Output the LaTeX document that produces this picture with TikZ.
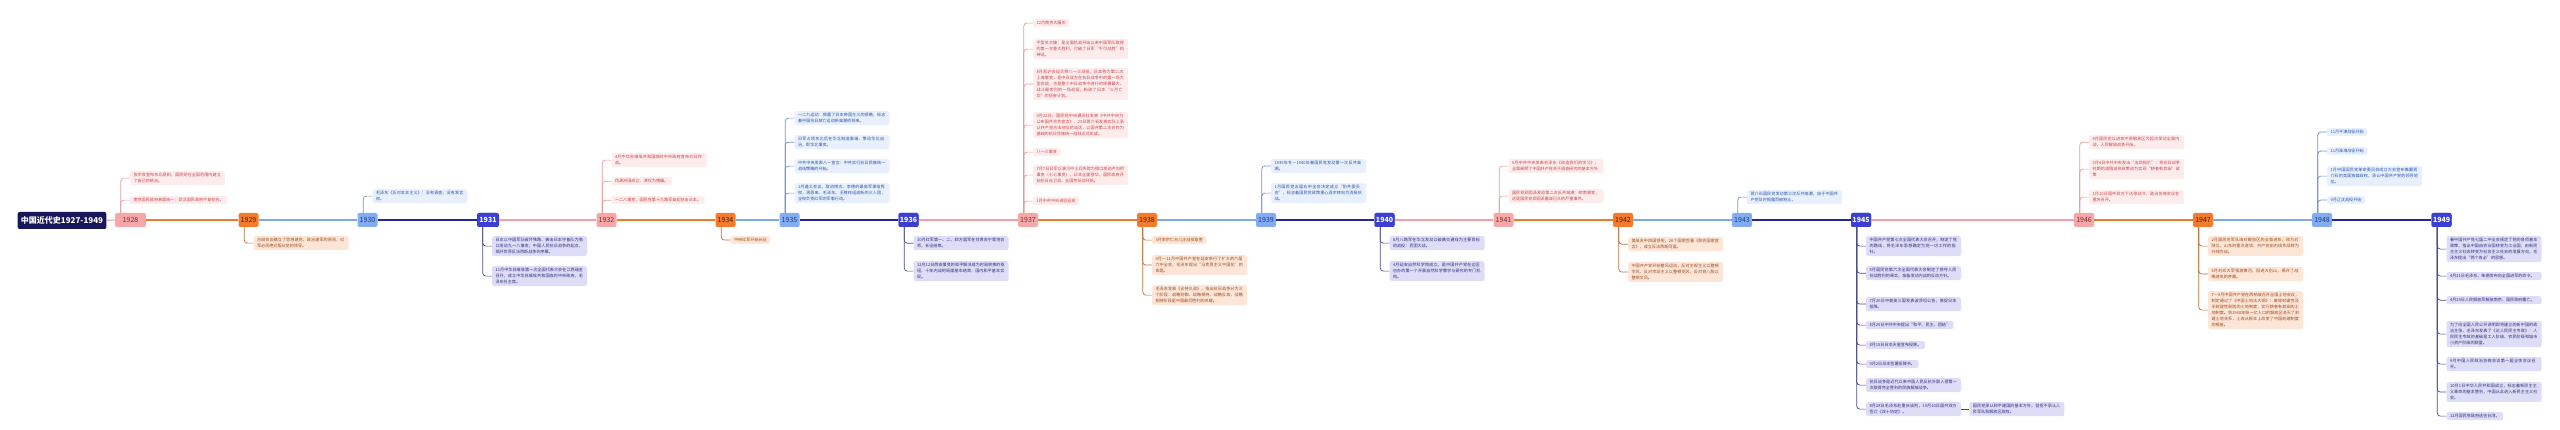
\documentclass[tikz,border=0pt]{standalone}
\usepackage{fontspec}
\setmainfont{Noto Sans CJK SC}
\XeTeXlinebreaklocale "zh"
\XeTeXlinebreakskip = 0pt plus 1pt
\usetikzlibrary{positioning}

\definecolor{navy}{HTML}{17175A}
\definecolor{pkY}{HTML}{F7A7A7}\definecolor{pkT}{HTML}{7A2E2E}\definecolor{pkB}{HTML}{FDECEC}
\definecolor{pkE}{HTML}{C9444A}\definecolor{pkL}{HTML}{F2A0A0}\definecolor{pkK}{HTML}{E39B9B}
\definecolor{orY}{HTML}{F37B2B}\definecolor{orT}{HTML}{4A1E05}\definecolor{orB}{HTML}{FDE6D8}
\definecolor{orE}{HTML}{9A4A1E}\definecolor{orL}{HTML}{F07A2C}\definecolor{orK}{HTML}{B8733F}
\definecolor{blY}{HTML}{82ACF4}\definecolor{blT}{HTML}{1E3C80}\definecolor{blB}{HTML}{E8F0FD}
\definecolor{blE}{HTML}{2C54A8}\definecolor{blL}{HTML}{7FA8F0}\definecolor{blK}{HTML}{6F92CF}
\definecolor{inY}{HTML}{3B3FD2}\definecolor{inT}{HTML}{FFFFFF}\definecolor{inB}{HTML}{DDDDF7}
\definecolor{inE}{HTML}{2E2E7A}\definecolor{inL}{HTML}{1F2A96}\definecolor{inK}{HTML}{4B4F86}

\tikzset{
  yr/.style={fill=#1Y, text=#1T, rounded corners=2pt, minimum height=14pt, inner sep=1pt,
    font=\fontsize{7}{8}\selectfont},
  ln/.style={draw=#1L, line width=1.2pt},
  evt/.style={fill=#1B, text=#1E, rounded corners=2pt, anchor=north west, inner xsep=3.5pt,
    inner ysep=2pt, align=left, font=\fontsize{4.1}{6}\selectfont},
}

% #1 opts, #2 name, #3 year node, #4 side, #5 colour, #6 top, #7 text
\newcommand{\evt}[7][text width=88pt]{%
  \node[evt=#5,#1,xshift=15pt] (#2) at (#3.west |- 0,#6) {#7};
  \draw[#5K, line width=.7pt, rounded corners=3pt] ([xshift=6pt]#3.#4 west) |- (#2.west);}

\begin{document}
\begin{tikzpicture}[x=1pt,y=-1pt]
  \useasboundingbox (0,0) rectangle (2560,430);
  \node[fill=navy, text=white, rounded corners=2pt, minimum width=86pt, minimum height=17pt,
    font=\bfseries\fontsize{8}{9}\selectfont] (root) at (62,220.5) {中国近代史1927-1949};
  \foreach \yy/\xx/\tp/\ww in {1928/130.5/pk/31, 1929/248.5/or/20, 1930/367.5/bl/20, 1931/488/in/22,
      1932/606.5/pk/20, 1934/725.5/or/20, 1935/789.5/bl/20, 1936/908.5/in/20, 1937/1028/pk/20,
      1938/1147/or/20, 1939/1266/bl/20, 1940/1384.5/in/20, 1941/1503.5/pk/20, 1942/1623/or/20,
      1943/1742/bl/20, 1945/1861/in/20, 1946/2084/pk/20, 1947/2203/or/20, 1948/2322/bl/20,
      1949/2441.5/in/20}
    \node[yr/.expanded=\tp, minimum width=\ww pt] (y\yy) at (\xx,220) {\yy};
  \foreach \a/\b/\tp in {root/y1928/pk, y1928/y1929/or, y1929/y1930/bl, y1930/y1931/in,
      y1931/y1932/pk, y1932/y1934/or, y1934/y1935/bl, y1935/y1936/in, y1936/y1937/pk,
      y1937/y1938/or, y1938/y1939/bl, y1939/y1940/in, y1940/y1941/pk, y1941/y1942/or,
      y1942/y1943/bl, y1943/y1945/in, y1945/y1946/pk, y1946/y1947/or, y1947/y1948/bl,
      y1948/y1949/in}
    \draw[ln/.expanded=\tp] (\a) -- (\b);
  \foreach \yy in {1931,1936,1940,1945,1949}
    \node[yr=in, minimum width=20pt, font=\bfseries\fontsize{7}{8}\selectfont] at (y\yy) {\yy};

  \evt{k28a}{y1928}{north}{pk}{171}{张学良宣布东北易帜，国民党在全国范围内建立了自己的统治。}
  \evt[]{k28b}{y1928}{north}{pk}{196}{南京国民政府表面统一：武汉国民政府不复存在。}
  \evt{k29a}{y1929}{south}{or}{236}{古田会议确立了思想建党、政治建军的原则，红军必须绝对服从党的领导。}
  \evt{k30a}{y1930}{north}{bl}{189}{毛泽东《反对本本主义》：没有调查，没有发言权。}
  \evt{k31a}{y1931}{south}{in}{236}{日本以中国军队破坏铁路、袭击日本守备队为借口发动九一八事变；中国人民抗日战争的起点，揭开世界反法西斯战争的序幕。}
  \evt{k31b}{y1931}{south}{in}{266}{11月中华苏维埃第一次全国代表大会在江西瑞金召开，成立中华苏维埃共和国临时中央政府，毛泽东任主席。}
  \evt{k32a}{y1932}{north}{pk}{153}{4月中华苏维埃共和国临时中央政府宣布对日作战。}
  \evt[]{k32b}{y1932}{north}{pk}{177}{伪满洲国成立，溥仪为傀儡。}
  \evt[]{k32c}{y1932}{north}{pk}{196}{一二八事变，国民党第十九路军奋起抗击日本。}
  \evt[]{k34a}{y1934}{south}{or}{236}{中央红军开始长征}
  \evt{k35a}{y1935}{north}{bl}{111}{一二九运动：揭露了日本帝国主义的侵略，标志着中国抗日救亡运动新高潮的到来。}
  \evt{k35b}{y1935}{north}{bl}{135}{日军占领东北后在华北制造事端，策动华北自治，即华北事变。}
  \evt{k35c}{y1935}{north}{bl}{159}{中共中央发表八一宣言：中共实行抗日民族统一战线策略的开始。}
  \evt{k35d}{y1935}{north}{bl}{183}{1月遵义会议，取消博古、李德的最高军事指挥权，周恩来、毛泽东、王稼祥组成新的三人团，全权负责红军的军事行动。}
  \evt{k36a}{y1936}{south}{in}{236}{10月红军第一、二、四方面军在甘肃会宁等地会师，长征结束。}
  \evt{k36b}{y1936}{south}{in}{261}{12月12日西安事变的和平解决成为时局转换的枢纽，十年内战的局面基本结束，国内和平基本实现。}
  \evt[]{k37a}{y1937}{north}{pk}{19}{12月南京大屠杀}
  \evt{k37b}{y1937}{north}{pk}{39}{平型关大捷：是全面抗战开始以来中国军队取得的第一次重大胜利，打破了日军“不可战胜”的神话。}
  \evt{k37c}{y1937}{north}{pk}{68}{8月淞沪会战又称八一三战役，日本称为第二次上海事变，是中日双方在抗日战争中的第一场大型会战，也是整个中日战争中进行的规模最大、战斗最惨烈的一场战役，粉碎了日本“三月亡华”的狂妄计划。}
  \evt{k37d}{y1937}{north}{pk}{112}{9月22日，国民党中央通讯社发表《中共中央为公布国共合作宣言》，23日蒋介石发表实际上承认共产党合法地位的谈话，以国共第二次合作为基础的抗日民族统一战线正式形成。}
  \evt[]{k37e}{y1937}{north}{pk}{148}{八一三事变}
  \evt{k37f}{y1937}{north}{pk}{165}{7月7日日军以演习中士兵失踪为借口发动卢沟桥事变（七七事变），日本全面侵华，国民政府开始抗日自卫战，全国性抗战开始。}
  \evt[]{k37g}{y1937}{north}{pk}{197}{1月中共中央进驻延安}
  \evt[]{k38a}{y1938}{south}{or}{236}{3月李宗仁台儿庄战役取胜}
  \evt{k38b}{y1938}{south}{or}{255}{9月～11月中国共产党在延安举行了扩大的六届六中全会，毛泽东提出“马克思主义中国化”的命题。}
  \evt{k38c}{y1938}{south}{or}{285}{毛泽东发表《论持久战》，指出抗日战争分为三个阶段：战略防御、战略相持、战略反攻，战略相持阶段是中国最后胜利的关键。}
  \evt{k39a}{y1939}{north}{bl}{159}{1939年冬－1940年春国民党发动第一次反共高潮。}
  \evt{k39b}{y1939}{north}{bl}{183}{1月国民党五届五中全会决定成立“防共委员会”，标志着国民党政策重心逐步转向为消极抗战。}
  \evt{k40a}{y1940}{south}{in}{236}{8月八路军在华北发动以破袭交通线为主要目标的战役：百团大战。}
  \evt{k40b}{y1940}{south}{in}{261}{4月延安自然科学院成立，是中国共产党在边区创办的第一个开展自然科学教学与研究的专门机构。}
  \evt{k41a}{y1941}{north}{pk}{159}{5月中共中央发表毛泽东《改造我们的学习》，全面阐明了中国共产党关于调查研究的基本方针}
  \evt{k41b}{y1941}{north}{pk}{189}{国民党顽固派发动第二次反共高潮：皖南事变，这是国民党顽固派蓄谋已久的严重事件。}
  \evt{k42a}{y1942}{south}{or}{237}{美英苏中四国领衔，26个国家签署《联合国家宣言》，成立反法西斯同盟。}
  \evt{k42b}{y1942}{south}{or}{262}{中国共产党开始整风运动，反对主观主义以整顿学风，反对宗派主义以整顿党风，反对党八股以整顿文风。}
  \evt{k43a}{y1943}{north}{bl}{190}{蒋介石国民党发动第三次反共高潮，由于中国共产党及时揭露而被制止。}
  \evt{k45a}{y1945}{south}{in}{236}{中国共产党第七次全国代表大会召开，制定了党的路线，将毛泽东思想确定为党一切工作的指针。}
  \evt{k45b}{y1945}{south}{in}{266}{5月国民党第六次全国代表大会制定了掠夺人民抗战胜利的果实，准备发动内战的反动方针。}
  \evt{k45c}{y1945}{south}{in}{297}{7月26日中美英三国发表波茨坦公告，敦促日本投降。}
  \evt[]{k45d}{y1945}{south}{in}{321}{8月25日中共中央提出“和平、民主、团结”}
  \evt[]{k45e}{y1945}{south}{in}{341}{8月15日日本天皇宣布投降。}
  \evt[]{k45f}{y1945}{south}{in}{360}{9月2日日本签署投降书。}
  \evt{k45g}{y1945}{south}{in}{378}{抗日战争是近代以来中国人民反抗外敌入侵第一次取得完全胜利的民族解放战争。}
  \evt{k45h}{y1945}{south}{in}{402}{8月28日毛泽东赴重庆谈判，10月10日国共双方签订《双十协定》。}
  \node[evt=in, text width=88pt, anchor=west, right=8pt of k45h] (k45i) {国民党承认和平建国的基本方针，但拒不承认人民军队和解放区政权。};
  \draw[inK, line width=.7pt] (k45h) -- (k45i);
  \evt{k46a}{y1946}{north}{pk}{135}{6月国民党以进攻中原解放区为起点发动全面内战，人民解放战争开始。}
  \evt{k46b}{y1946}{north}{pk}{159}{5月4日中共中央发出“五四指示”：将抗日战争时期的减租减息政策改为实现“耕者有其田”政策}
  \evt{k46c}{y1946}{north}{pk}{190}{1月10日国共双方下达停战令，政治协商会议在重庆召开。}
  \evt{k47a}{y1947}{south}{or}{236}{2月国民党军队由对解放区的全面进攻，改为对陕北、山东的重点进攻，共产党由内线作战转为外线作战。}
  \evt{k47b}{y1947}{south}{or}{267}{6月刘邓大军强渡黄河，挺进大别山，揭开了战略进攻的序幕。}
  \evt{k47c}{y1947}{south}{or}{291}{7－9月中国共产党在西柏坡召开全国土地会议，制定通过了《中国土地法大纲》：废除封建性及半封建性剥削的土地制度，实行耕者有其田的土地制度。到1948年秋一亿人口的解放区消灭了封建土地关系，土改从根本上改变了中国封建制度的根基。}
  \evt[]{k48a}{y1948}{north}{bl}{128}{11月平津战役开始}
  \evt[]{k48b}{y1948}{north}{bl}{147}{11月淮海战役开始}
  \evt{k48c}{y1948}{north}{bl}{166}{1月中国国民党革命委员会成立大会宣布推翻蒋介石的卖国独裁政权，承认中国共产党的领导地位。}
  \evt[]{k48d}{y1948}{north}{bl}{196}{9月辽沈战役开始}
  \evt{k49a}{y1949}{south}{in}{236}{春中国共产党七届二中全会规定了党的各项基本政策，指出中国由农业国转变为工业国，由新民主主义社会转变为社会主义社会的发展方向，毛泽东提出“两个务必”的思想。}
  \evt{k49b}{y1949}{south}{in}{272}{4月21日毛泽东、朱德发布向全国进军的命令。}
  \evt{k49c}{y1949}{south}{in}{296}{4月23日人民解放军解放南京，国民政府覆亡。}
  \evt{k49d}{y1949}{south}{in}{321}{为了向全国人民公开说明即将建立的新中国的政治主张，毛泽东发表了《论人民民主专政》：人民民主专政的基础是工人阶级、农民阶级和城市小资产阶级的联盟。}
  \evt{k49e}{y1949}{south}{in}{357}{9月中国人民政治协商会议第一届全体会议召开。}
  \evt{k49f}{y1949}{south}{in}{382}{10月1日中华人民共和国成立，标志着新民主主义革命的基本胜利，中国从此进入新民主主义社会。}
  \evt[]{k49g}{y1949}{south}{in}{412}{12月国民党政府逃往台湾。}
%  \node[yr=in] at (2500,220) {1950};
\end{tikzpicture}
\end{document}
